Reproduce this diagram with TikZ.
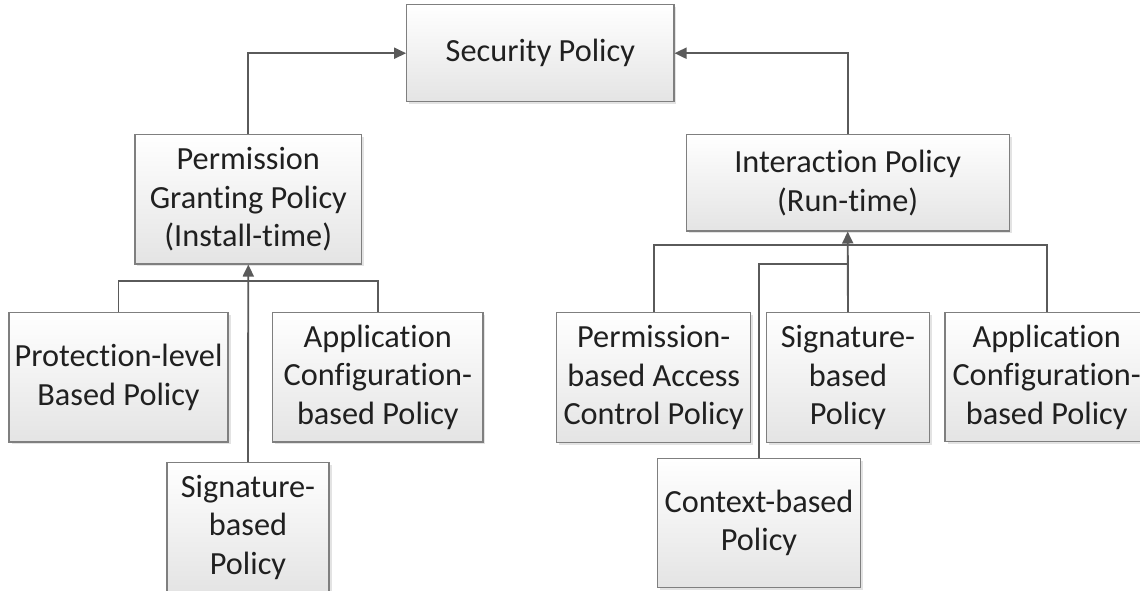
\documentclass[tikz,border=0pt]{standalone}
\usepackage{fontspec}
\setmainfont{Carlito}[Ligatures={NoCommon,NoContextual}]
\usetikzlibrary{arrows.meta,shadows}
\newcommand{\nti}{t\kern0pt i}
\definecolor{boxline}{HTML}{7F7F7F}
\definecolor{conn}{HTML}{5A5A5A}
\definecolor{txt}{HTML}{202020}
\definecolor{boxbot}{HTML}{E4E4E4}
\tikzset{
  pbox/.style={draw=boxline, line width=1.1pt, top color=white, bottom color=boxbot,
    inner sep=0pt, align=center, text=txt,
    font=\fontsize{32.3}{38.6}\selectfont,
    drop shadow={shadow xshift=2.5pt, shadow yshift=-2.5pt, fill=black!11, opacity=1}},
  conline/.style={draw=conn, line width=1.9pt},
  conarrow/.style={conline, -{Triangle[length=12pt,width=11pt]}}
}
\begin{document}
\begin{tikzpicture}[x=1pt,y=-1pt]
\useasboundingbox (0,0) rectangle (1140,590);
\node[pbox, minimum width=267.3pt, minimum height=97pt] (sec) at (540.3,53.2) {Security Policy};
\node[pbox, minimum width=226.7pt, minimum height=129.3pt] (pgp) at (248.3,199.3) {Permission\\Gran\nti{}ng Policy\\(Install-\nti{}me)};
\node[pbox, minimum width=323pt, minimum height=96.3pt] (ip) at (847.7,182.8) {Interac\nti{}on Policy\\(Run-\nti{}me)};
\node[pbox, minimum width=219pt, minimum height=129.3pt] (prot) at (118.5,377.3) {Protec\nti{}on-level\\Based Policy};
\node[pbox, minimum width=210.3pt, minimum height=129.3pt] (appL) at (377.8,377.3) {Applica\nti{}on\\Configura\nti{}on-\\based Policy};
\node[pbox, minimum width=162pt, minimum height=129.3pt] (sigL) at (248,527.3) {Signature-\\based\\Policy};
\node[pbox, minimum width=194pt, minimum height=130pt] (pbac) at (653.7,377.7) {Permission-\\based Access\\Control Policy};
\node[pbox, minimum width=162.3pt, minimum height=130pt] (sigR) at (848,377.7) {Signature-\\based\\Policy};
\node[pbox, minimum width=203.4pt, minimum height=129pt] (appR) at (1046.7,377.3) {Applica\nti{}on\\Configura\nti{}on-\\based Policy};
\node[pbox, minimum width=203.4pt, minimum height=128.6pt] (ctx) at (759,523) {Context-based\\Policy};
\coordinate (busL) at (248.3,281);
\coordinate (busR) at (847.7,245);
\coordinate (busC) at (847.7,264);
\draw[conarrow] (pgp.north) |- (sec.west);
\draw[conarrow] (ip.north) |- (sec.east);
\draw[conline] (prot.north) |- (busL) -| (appL.north);
\draw[conarrow] (sigL.north) -- (pgp.south);
\draw[conline] (pbac.north) |- (busR) -| (appR.north);
\draw[conline] (ctx.north) |- (busC);
\draw[conarrow] (sigR.north) -- (ip.south);
\end{tikzpicture}
\end{document}
